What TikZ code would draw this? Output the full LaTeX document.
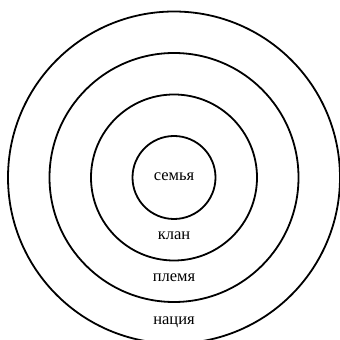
\documentclass[tikz,border=0pt]{standalone}
\usepackage{fontspec}
\setmainfont{Liberation Serif}
\begin{document}
\begin{tikzpicture}[x=1pt,y=1pt,
  ring/.style={draw=black,line width=1.8pt},
  lbl/.style={font=\fontsize{16.5}{18}\selectfont,text=black,inner sep=0pt}]
\useasboundingbox (0,0) rectangle (340,340);
\fill[white] (0,0) rectangle (340,340);
\coordinate (c) at (174,162.5);
\draw[ring] (c) circle[radius=41.5];
\draw[ring] (c) circle[radius=83];
\draw[ring] (c) circle[radius=124.5];
\draw[ring] (c) circle[radius=166];
\node[lbl] (s) at (174,163) {семья};
\node[lbl] (k) at (174,104) {клан};
\node[lbl] (p) at (174,62) {племя};
\node[lbl] (n) at (174,17.5) {нация};
\end{tikzpicture}
\end{document}
